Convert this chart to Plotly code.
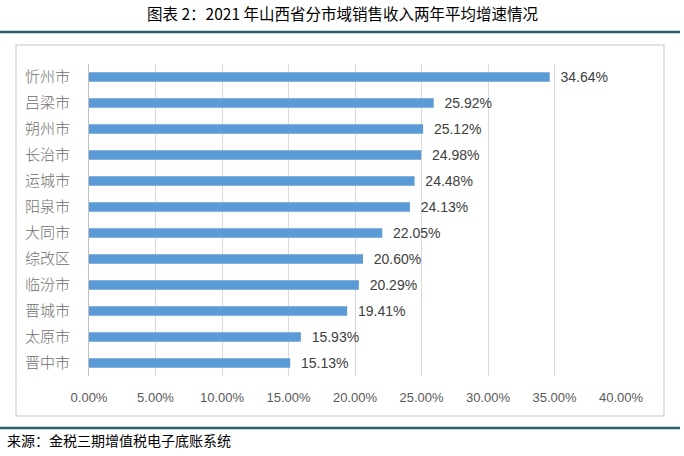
import plotly.graph_objects as go

cities = ["忻州市", "吕梁市", "朔州市", "长治市", "运城市", "阳泉市",
          "大同市", "综改区", "临汾市", "晋城市", "太原市", "晋中市"]
growth = [34.64, 25.92, 25.12, 24.98, 24.48, 24.13,
          22.05, 20.60, 20.29, 19.41, 15.93, 15.13]
x_ticks = [0, 5, 10, 15, 20, 25, 30, 35, 40]
x_tick_labels = ["0.00%", "5.00%", "10.00%", "15.00%", "20.00%",
                 "25.00%", "30.00%", "35.00%", "40.00%"]
title_text = "图表 2：2021 年山西省分市域销售收入两年平均增速情况"
source_text = "来源：金税三期增值税电子底账系统"

W, H = 684, 456
L, R, T, B = 89, 63, 64, 80
pw, ph = W - L - R, H - T - B

def px(x):
    return (x - L) / pw

def py(y):
    return (H - B - y) / ph

fig = go.Figure(go.Bar(
    x=growth, y=cities, orientation="h",
    marker=dict(color="#5B9BD5", line=dict(width=0)),
    texttemplate="\u00a0\u00a0%{x:.2f}%", textposition="outside", constraintext="none",
    textfont=dict(family="Liberation Sans, Arial", size=14, color="#404040"),
    cliponaxis=False, width=0.36,
))

teal = "#25606F"
shapes = [
    dict(type="line", xref="paper", yref="paper", x0=px(0), x1=px(680), y0=py(32), y1=py(32),
         line=dict(color=teal, width=2.5)),
    dict(type="line", xref="paper", yref="paper", x0=px(0), x1=px(680), y0=py(428), y1=py(428),
         line=dict(color=teal, width=2.5)),
    dict(type="rect", xref="paper", yref="paper", x0=px(16), x1=px(664), y0=py(45), y1=py(416),
         line=dict(color="#D9D9D9", width=1.5), fillcolor="rgba(0,0,0,0)"),
]

fig.update_layout(
    width=W, height=H,
    margin=dict(l=L, r=R, t=T, b=B),
    paper_bgcolor="white", plot_bgcolor="white",
    showlegend=False,
    shapes=shapes,
    annotations=[
        dict(text=title_text, xref="paper", yref="paper", x=px(342), y=py(13),
             xanchor="center", yanchor="middle", showarrow=False,
             font=dict(family="Noto Sans CJK SC", size=15.5, color="#000000")),
        dict(text=source_text, xref="paper", yref="paper", x=px(5), y=py(440),
             xanchor="left", yanchor="middle", showarrow=False,
             font=dict(family="Noto Sans CJK SC", size=14, color="#000000")),
    ],
    xaxis=dict(range=[0, 40], tickvals=x_ticks, ticktext=x_tick_labels,
               showgrid=True, gridcolor="#D9D9D9", gridwidth=1, zeroline=False,
               showline=False, ticks="", ticklabelstandoff=12,
               tickfont=dict(family="Liberation Sans, Arial", size=13, color="#595959")),
    yaxis=dict(autorange="reversed", showgrid=False, zeroline=False,
               showline=True, linecolor="#BFBFBF", linewidth=1, ticks="",
               ticklabelstandoff=15,
               tickfont=dict(family="Noto Sans CJK SC", size=15, color="#6E6E6E", weight=300)),
)

fig.write_html("out.html", config={"displayModeBar": False},
               post_script="document.body.style.margin='0';")
